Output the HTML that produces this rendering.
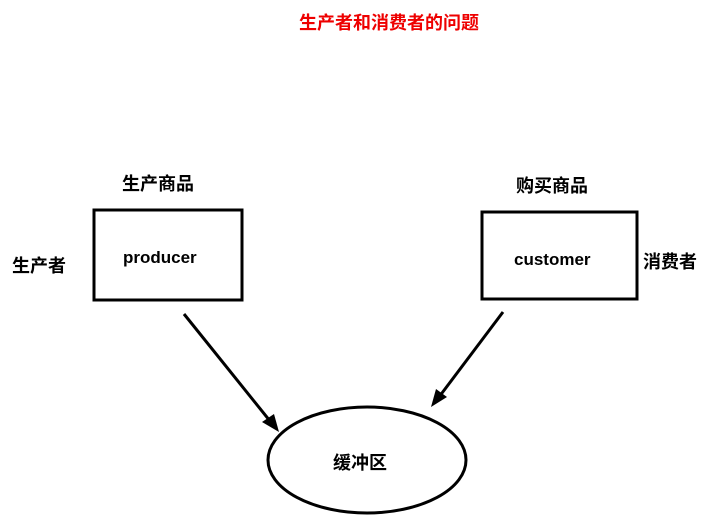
<!DOCTYPE html>
<html><head><meta charset="utf-8"><style>
body{margin:0;width:713px;height:528px;background:#fff;overflow:hidden;position:relative;font-family:"Liberation Sans","Noto Sans CJK SC",sans-serif;font-weight:bold;}
.t{position:absolute;white-space:nowrap;font-size:18px;color:#000;}
</style></head><body>
<div class="t" style="left:299px;top:9px;color:#e00;">生产者和消费者的问题</div>
<div class="t" style="left:122px;top:170px;">生产商品</div>
<div class="t" style="left:516px;top:172px;">购买商品</div>
<div class="t" style="left:12px;top:252px;">生产者</div>
<div class="t" style="left:643px;top:248px;">消费者</div>
<svg width="713" height="528" style="position:absolute;left:0;top:0">
<rect x="94" y="210" width="148" height="90" fill="none" stroke="#000" stroke-width="3"/>
<rect x="482" y="212" width="155" height="87" fill="none" stroke="#000" stroke-width="3"/>
<ellipse cx="367" cy="460" rx="99" ry="53" fill="none" stroke="#000" stroke-width="3"/>
<line x1="184" y1="314" x2="274" y2="426" stroke="#000" stroke-width="3"/>
<polygon points="279,432 262,422 274,414" fill="#000"/>
<line x1="503" y1="312" x2="436" y2="401" stroke="#000" stroke-width="3"/>
<polygon points="431,407 436,389 447,397" fill="#000"/>
</svg>
<div class="t" style="left:123px;top:248px;font-size:17px;">producer</div>
<div class="t" style="left:514px;top:250px;font-size:17px;">customer</div>
<div class="t" style="left:333px;top:449px;">缓冲区</div>
</body></html>
